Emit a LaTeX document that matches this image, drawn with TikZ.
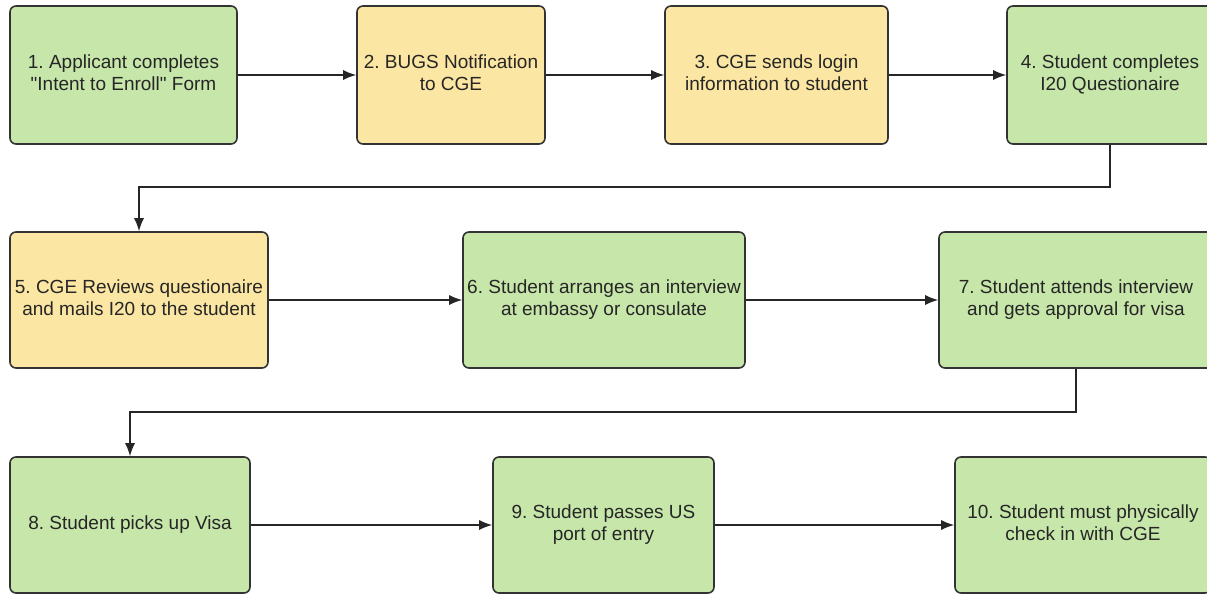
\documentclass[tikz,border=0pt]{standalone}
\usepackage{fontspec}
\setmainfont{Liberation Sans}[Ligatures=TeXOff]
\usetikzlibrary{arrows.meta}
\definecolor{boxgreen}{HTML}{C6E6AA}
\definecolor{boxyellow}{HTML}{FCE6A3}
\definecolor{edge}{HTML}{333333}
\newcommand{\boxlines}[1]{\raisebox{3pt}{\begin{tabular}{@{}c@{}}#1\end{tabular}}}
\frenchspacing
\begin{document}
\begin{tikzpicture}[x=1pt,y=-1pt,
  basebox/.style={draw=edge, line width=1.6pt, rounded corners=6pt, inner sep=0pt,
     align=center, font=\fontsize{19}{22}\selectfont, text=black!85},
  gbox/.style={basebox, fill=boxgreen},
  ybox/.style={basebox, fill=boxyellow},
  conn/.style={draw=black!85, line width=1.3pt, -{Latex[length=13pt,width=10pt]}}]
\useasboundingbox (0,0) rectangle (1207,594);
% row 1
\node[gbox, minimum width=227, minimum height=138] (n1) at (123.5,75) {\boxlines{1. Applicant completes\\"Intent to Enroll" Form}};
\node[ybox, minimum width=188, minimum height=138] (n2) at (451,75) {\boxlines{2. BUGS Notification\\to CGE}};
\node[ybox, minimum width=223, minimum height=138] (n3) at (776.5,75) {\boxlines{3. CGE sends login\\information to student}};
\node[gbox, minimum width=206, minimum height=138] (n4) at (1110,75) {\boxlines{4. Student completes\\I20 Questionaire}};
% row 2
\node[ybox, minimum width=258, minimum height=136] (n5) at (139,300) {\boxlines{5. CGE Reviews questionaire\\and mails I20 to the student}};
\node[gbox, minimum width=282, minimum height=136] (n6) at (604,300) {\boxlines{6. Student arranges an interview\\at embassy or consulate}};
\node[gbox, minimum width=274, minimum height=136] (n7) at (1076,300) {\boxlines{7. Student attends interview\\and gets approval for visa}};
% row 3
\node[gbox, minimum width=240, minimum height=136] (n8) at (130,525) {\boxlines{8. Student picks up Visa}};
\node[gbox, minimum width=221, minimum height=136] (n9) at (603.5,525) {\boxlines{9. Student passes US\\port of entry}};
\node[gbox, minimum width=256, minimum height=136] (n10) at (1083,525) {\boxlines{10. Student must physically\\check in with CGE}};
% connectors
\coordinate (c1) at (139,187);
\coordinate (c2) at (130,412);
\draw[conn] (n1.east) -- (n2.west);
\draw[conn] (n2.east) -- (n3.west);
\draw[conn] (n3.east) -- (n4.west);
\draw[conn] (n4.south) |- (c1) -- (n5.north);
\draw[conn] (n5.east) -- (n6.west);
\draw[conn] (n6.east) -- (n7.west);
\draw[conn] (n7.south) |- (c2) -- (n8.north);
\draw[conn] (n8.east) -- (n9.west);
\draw[conn] (n9.east) -- (n10.west);
\end{tikzpicture}
\end{document}
